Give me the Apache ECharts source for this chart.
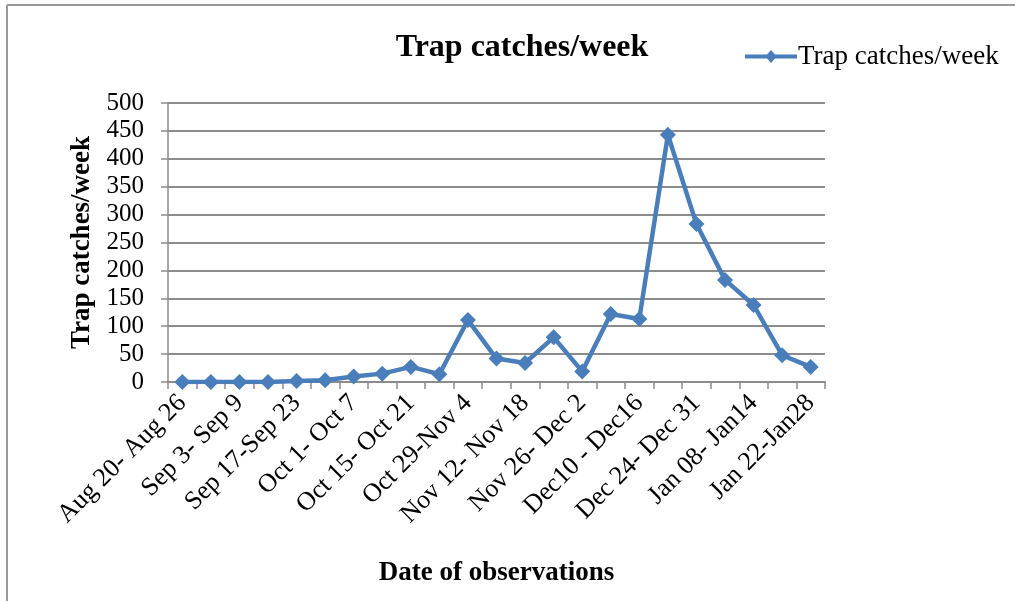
<!DOCTYPE html>
<html>
<head>
<meta charset="utf-8">
<style>
  html, body { margin: 0; padding: 0; background: #fff; }
  #chart { width: 1015px; height: 601px; }
</style>
<script src="https://cdn.jsdelivr.net/npm/echarts@6/dist/echarts.min.js"></script>
</head>
<body>
<div id="chart"></div>
<script>
// Weekly observation periods
const weeks = [
  'Aug 20- Aug 26', 'Aug 27- Sep 2', 'Sep 3- Sep 9', 'Sep 10- Sep 16',
  'Sep 17-Sep 23', 'Sep 24- Sep 30', 'Oct 1- Oct 7', 'Oct 8- Oct 14',
  'Oct 15- Oct 21', 'Oct 22- Oct 28', 'Oct 29-Nov 4', 'Nov 5- Nov 11',
  'Nov 12- Nov 18', 'Nov 19- Nov 25', 'Nov 26- Dec 2', 'Dec 3- Dec 9',
  'Dec10 - Dec16', 'Dec 17- Dec 23', 'Dec 24- Dec 31', 'Jan 01- Jan 07',
  'Jan 08- Jan14', 'Jan 15- Jan 21', 'Jan 22-Jan28'
];

// Moths caught per week
const trapCatches = [
  0, 0, 0, 0, 2, 3, 10, 15, 27, 14, 111, 42,
  34, 80, 19, 122, 113, 443, 283, 183, 138, 48, 27
];

const seriesName = 'Trap catches/week';
const chartTitle = 'Trap catches/week';
const xAxisTitle = 'Date of observations';
const yAxisTitle = 'Trap catches/week';

const serif = '"Liberation Serif", "Times New Roman", serif';
const lineBlue = '#4a7ebb';
const gridGray = '#8c8c8c';

// Legend key: a short line segment with a small diamond in the middle
const legendIcon = 'path://M0,5.5 L22,5.5 L26,1 L30,5.5 L52,5.5 L52,9.5 L30,9.5 L26,14 L22,9.5 L0,9.5 Z';

const chart = echarts.init(document.getElementById('chart'), null, { renderer: 'canvas' });

chart.setOption({
  animation: false,
  backgroundColor: '#ffffff',
  graphic: [
    { type: 'line', shape: { x1: 7, y1: 5, x2: 1015, y2: 5 }, style: { stroke: '#999', lineWidth: 2 } },
    { type: 'line', shape: { x1: 7, y1: 5, x2: 7, y2: 601 }, style: { stroke: '#999', lineWidth: 2 } }
  ],
  title: {
    text: chartTitle,
    left: 517,
    top: 27,
    textAlign: 'center',
    textStyle: { fontFamily: serif, fontSize: 32, fontWeight: 'bold', color: '#000' }
  },
  legend: {
    left: 740,
    top: 38,
    itemWidth: 52,
    itemHeight: 14,
    itemGap: 0,
    data: [{ name: seriesName, icon: legendIcon }],
    textStyle: { fontFamily: serif, fontSize: 27, color: '#000', padding: [0, 0, 0, -4] }
  },
  grid: { left: 168, right: 190, top: 103, bottom: 219, containLabel: false },
  xAxis: {
    type: 'category',
    data: weeks,
    boundaryGap: true,
    name: xAxisTitle,
    nameLocation: 'middle',
    nameGap: 178,
    nameTextStyle: { fontFamily: serif, fontSize: 27, fontWeight: 'bold', color: '#000' },
    axisLine: { lineStyle: { color: gridGray, width: 2 } },
    axisTick: { show: true, interval: 0, length: 7, inside: false, lineStyle: { color: gridGray, width: 1.5 } },
    axisLabel: {
      interval: 1,
      rotate: 45,
      margin: 17,
      fontFamily: serif,
      fontSize: 26,
      color: '#000'
    },
    splitLine: { show: false }
  },
  yAxis: {
    type: 'value',
    min: 0,
    max: 500,
    interval: 50,
    name: yAxisTitle,
    nameLocation: 'middle',
    nameGap: 67,
    nameRotate: 90,
    nameTextStyle: { fontFamily: serif, fontSize: 27, fontWeight: 'bold', color: '#000' },
    axisLine: { show: true, lineStyle: { color: gridGray, width: 1.5 } },
    axisTick: { show: true, length: 7, lineStyle: { color: gridGray, width: 1.5 } },
    axisLabel: { fontFamily: serif, fontSize: 25, color: '#000', margin: 24 },
    splitLine: { show: true, lineStyle: { color: gridGray, width: 2 } }
  },
  series: [{
    name: seriesName,
    type: 'line',
    data: trapCatches,
    symbol: 'diamond',
    symbolSize: 16,
    itemStyle: { color: lineBlue },
    lineStyle: { color: lineBlue, width: 4.5 },
    z: 5
  }]
});
</script>
</body>
</html>
